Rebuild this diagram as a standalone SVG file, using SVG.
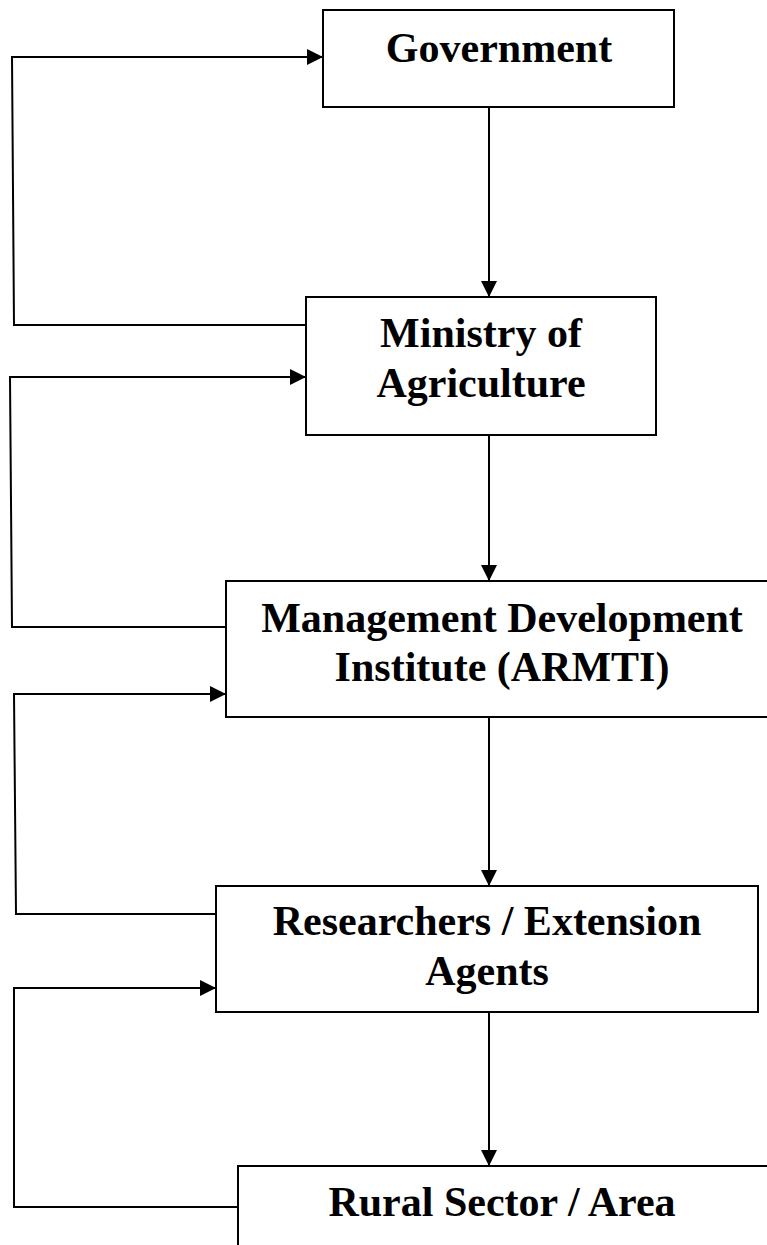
<svg xmlns="http://www.w3.org/2000/svg" width="767" height="1245" viewBox="0 0 767 1245">
<style>
.box{fill:#fff;stroke:#000;stroke-width:2}
.lbl{font-family:"Liberation Serif","Times New Roman",serif;font-weight:bold;font-size:42px;fill:#000;text-anchor:middle}
.con{fill:none;stroke:#000;stroke-width:2}
</style>
<defs>
<marker id="ah" markerUnits="userSpaceOnUse" markerWidth="16" markerHeight="16" viewBox="0 0 16 16" refX="16" refY="8" orient="auto">
<path d="M0,0 L16,8 L0,16 Z" fill="#000"/>
</marker>
</defs>
<rect width="767" height="1245" fill="#fff"/>
<g id="connectors">
<line class="con" x1="489" y1="107" x2="489" y2="297" marker-end="url(#ah)"/>
<line class="con" x1="489" y1="435" x2="489" y2="581" marker-end="url(#ah)"/>
<line class="con" x1="489" y1="717" x2="489" y2="886" marker-end="url(#ah)"/>
<line class="con" x1="489" y1="1012" x2="489" y2="1166" marker-end="url(#ah)"/>
<polyline class="con" points="306,325 14,325 12,57 323,57" marker-end="url(#ah)"/>
<polyline class="con" points="226,627 12,627 10,377 306,377" marker-end="url(#ah)"/>
<polyline class="con" points="216,914 16,914 14,694 226,694" marker-end="url(#ah)"/>
<polyline class="con" points="238,1207 14,1207 14,988 216,988" marker-end="url(#ah)"/>
</g>
<g id="government">
<rect class="box" x="323" y="10" width="351" height="97"/>
<text class="lbl" x="499" y="62">Government</text>
</g>
<g id="ministry">
<rect class="box" x="306" y="297" width="350" height="138"/>
<text class="lbl" x="481" y="347">Ministry of</text>
<text class="lbl" x="481" y="397">Agriculture</text>
</g>
<g id="armti">
<rect class="box" x="226" y="581" width="553" height="136"/>
<text class="lbl" x="502" y="632">Management Development</text>
<text class="lbl" x="502" y="681">Institute (ARMTI)</text>
</g>
<g id="researchers">
<rect class="box" x="216" y="886" width="542" height="126"/>
<text class="lbl" x="487" y="935">Researchers / Extension</text>
<text class="lbl" x="487" y="985">Agents</text>
</g>
<g id="rural">
<rect class="box" x="238" y="1166" width="560" height="100"/>
<text class="lbl" x="502" y="1216">Rural Sector / Area</text>
</g>
</svg>
